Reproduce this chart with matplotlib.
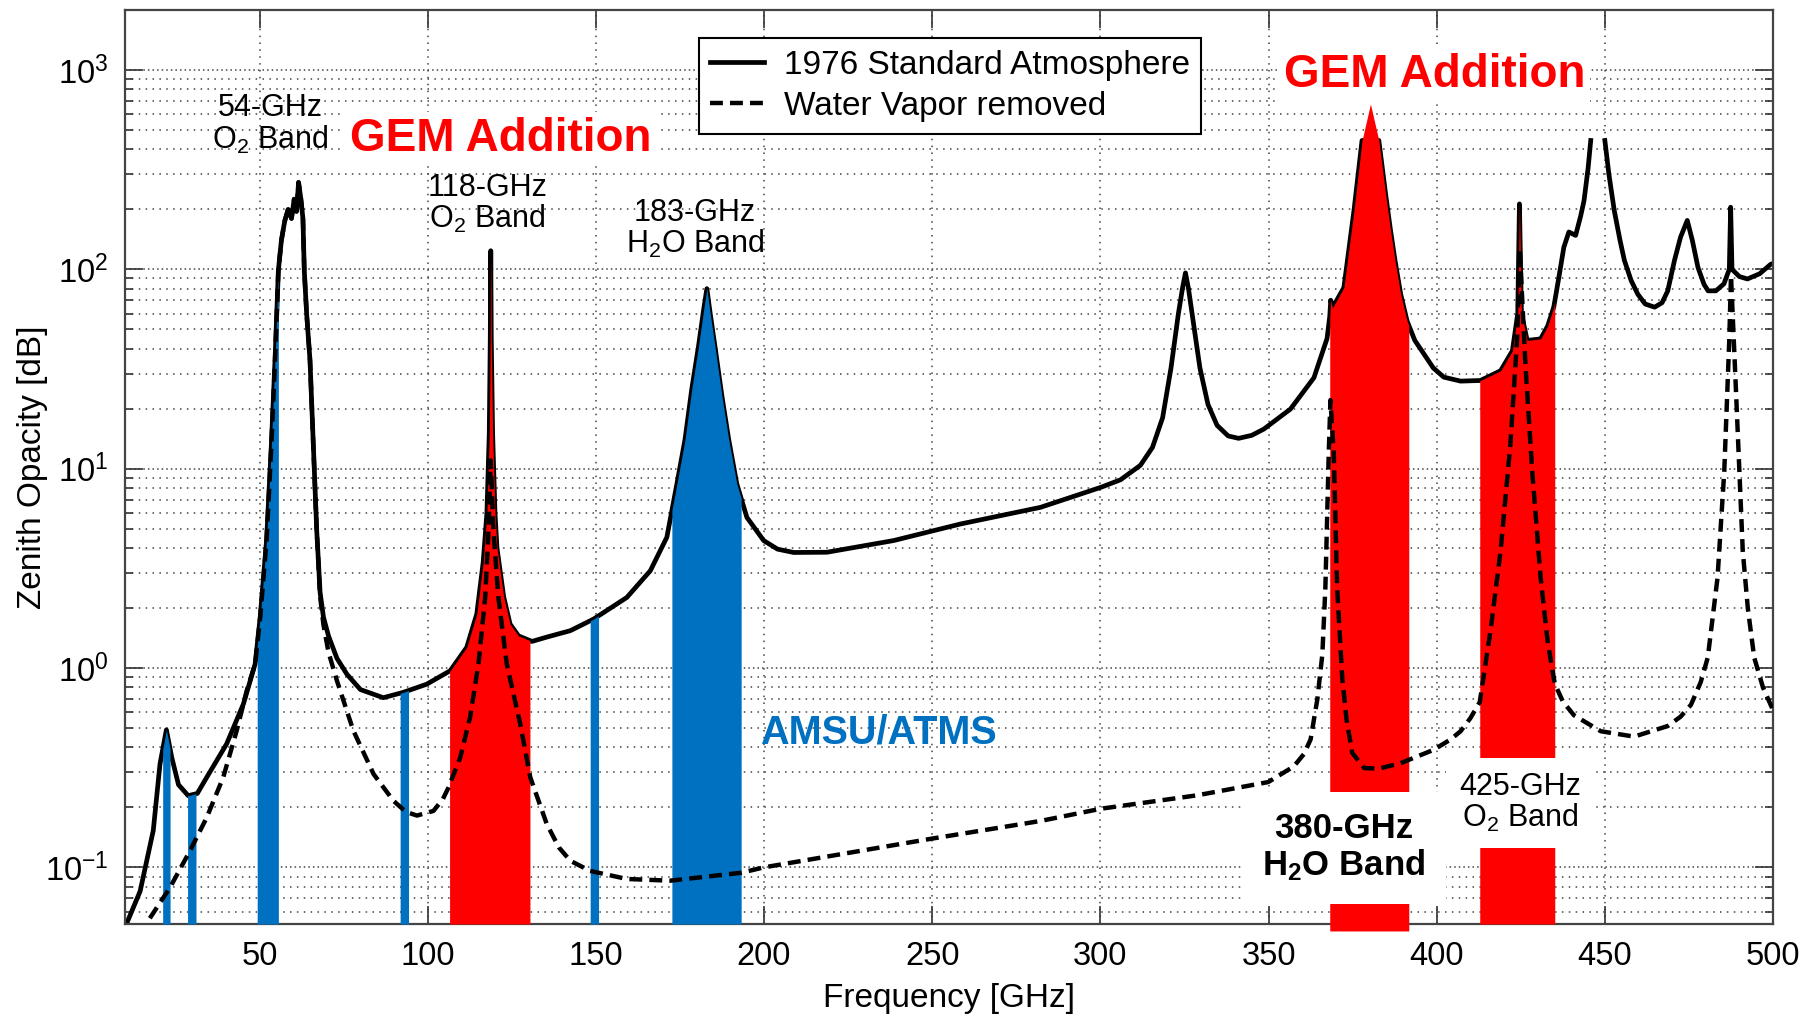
import matplotlib

matplotlib.use("Agg")
import matplotlib.pyplot as plt
import numpy as np
from matplotlib.ticker import LogLocator, NullFormatter, MultipleLocator

plt.rcParams.update({
    "font.family": ["Liberation Sans", "DejaVu Sans"],
    "mathtext.fontset": "custom",
    "mathtext.rm": "Liberation Sans",
    "mathtext.it": "Liberation Sans:italic",
    "mathtext.bf": "Liberation Sans:bold",
})

# ---------------------------------------------------------------------------
# zenith opacity, 1976 standard atmosphere
# ---------------------------------------------------------------------------
std_freq = [10.0, 14.5, 18.4, 20.4, 22.3, 23.9, 25.9, 28.8, 31.5, 34.3, 40.2,
            45.2, 48.7, 50.2, 52.1, 53.5, 54.6, 55.6, 56.5, 57.5, 58.5, 59.5,
            60.3, 61.0, 61.6, 62.3, 62.9, 63.3, 64.0, 65.0, 66.0, 67.0, 68.0,
            69.0, 70.5, 73.0, 76.0, 80.0, 86.8, 92.7, 99.7, 106.7, 111.6,
            114.6, 116.5, 117.6, 118.3, 118.6, 118.75, 118.9, 119.3, 120.0,
            120.6, 122.6, 124.5, 127.0, 131.0, 135.4, 142.4, 149.3, 159.2,
            166.2, 171.1, 174.1, 176.5, 178.5, 180.5, 182.0, 183.0, 184.0,
            185.5, 187.5, 189.5, 191.9, 194.9, 199.9, 204.0, 208.8, 218.7,
            238.5, 258.4, 282.2, 300.2, 306.0, 311.9, 315.5, 318.5, 321.0,
            323.2, 324.5, 325.3, 326.2, 327.6, 329.6, 332.0, 334.7, 338.0,
            341.1, 345.0, 348.6, 356.5, 363.5, 367.4, 368.2, 368.5, 369.0,
            372.4, 375.4, 377.8, 380.3, 382.8, 384.8, 386.2, 387.6, 389.3,
            391.2, 393.5, 396.2, 399.0, 402.1, 407.1, 413.0, 419.0, 422.5,
            424.1, 424.6, 425.2, 426.9, 430.9, 433.0, 434.8, 436.5, 437.8,
            439.3, 441.3, 442.8, 443.8, 445.0, 445.8, 448.0, 450.0, 451.2,
            452.8, 454.5, 455.8, 457.8, 459.8, 462.0, 464.8, 467.0, 468.7,
            470.7, 472.5, 474.5, 476.0, 477.7, 479.5, 480.7, 483.0, 485.4,
            487.0, 487.4, 487.8, 490.0, 492.4, 496.0, 499.3, 500.0]
std_opac = [0.050, 0.076, 0.153, 0.33, 0.49, 0.356, 0.26, 0.229, 0.235, 0.283, 0.416,
            0.66, 1.05, 1.8, 4.4, 13, 35, 99, 140, 175, 200, 180,
            225, 195, 273, 225, 180, 99, 60, 35, 13, 4.9, 2.4,
            1.8, 1.45, 1.12, 0.93, 0.78, 0.71, 0.755, 0.83, 0.97, 1.27,
            1.87, 3.4, 6.0, 15, 45, 124, 45, 15, 6.0,
            4.0, 2.27, 1.66, 1.45, 1.36, 1.43, 1.54, 1.76, 2.26,
            3.08, 4.53, 8.4, 14, 25, 41, 62, 80, 60,
            40, 23, 14, 8.4, 5.7, 4.36, 3.95, 3.8, 3.81,
            4.36, 5.28, 6.4, 8.07, 8.8, 10.4, 12.8, 18, 32,
            60, 82, 96, 80, 55, 32, 21, 16.5, 14.6,
            14.2, 14.7, 15.8, 19.9, 28.6, 45, 58, 70, 64,
            81, 197, 443, 676, 443, 239, 160, 111, 75,
            55, 44, 37.6, 32, 28.8, 27.5, 27.7, 31, 39,
            60, 213, 60, 44, 44.8, 52, 64.6, 95, 129,
            154, 148, 185, 221, 320, 443, np.nan, 446, 300,
            197, 140, 111, 88, 75, 67, 64.6, 68, 78,
            111, 145, 176, 140, 102, 84, 78, 78, 84.6,
            100, 205, 100, 92, 89.5, 95, 106, 107]

# zenith opacity with water vapor removed
dry_freq = [15.0, 17.2, 23.4, 29.3, 34.3, 39.2, 43.2, 46.2, 48.7, 50.2, 52.1,
            53.5, 54.6, 55.6, 56.5, 57.5, 58.5, 59.5, 60.3, 61.0, 61.6, 62.3,
            62.9, 63.3, 64.0, 65.0, 66.0, 67.0, 68.0, 69.0, 70.5, 73.0, 77.9,
            83.9, 89.8, 93.5, 96.8, 101.7, 104.5, 106.2, 109.7, 112.6, 115.1,
            117.1, 118.1, 118.75, 119.5, 121.0, 123.5, 127.5, 130.5, 135.4,
            139.0, 142.4, 148.3, 159.2, 172.1, 193.2, 199.9, 249.4, 282.2,
            300.2, 328.8, 349.9, 357.5, 360.5, 362.5, 364.5, 366.0, 366.9,
            367.4, 367.9, 368.4, 369.4, 370.4, 371.9, 373.2, 374.9, 378.5,
            382.8, 389.2, 399.1, 404.1, 407.1, 410.0, 412.8, 416.0, 419.0,
            421.9, 423.9, 424.7, 426.4, 428.4, 430.9, 433.0, 435.1, 437.5,
            440.8, 448.8, 458.7, 468.7, 472.5, 475.6, 478.5, 480.6, 483.5,
            485.5, 487.0, 487.5, 489.0, 491.0, 492.5, 494.4, 497.0, 500.0]
dry_opac = [0.045, 0.055, 0.0794, 0.121, 0.178, 0.283, 0.485, 0.77, 1.05, 1.8, 4.4,
            13, 35, 99, 140, 175, 200, 180, 225, 195, 273, 225,
            180, 99, 60, 35, 13, 4.9, 2.3, 1.65, 1.2, 0.865, 0.485,
            0.294, 0.216, 0.19, 0.182, 0.192, 0.22, 0.252, 0.357, 0.567, 1.05,
            2.27, 5.0, 11, 5.0, 2.27, 1.05, 0.525, 0.283, 0.165,
            0.126, 0.108, 0.096, 0.0875, 0.0858, 0.094, 0.1, 0.139, 0.171,
            0.197, 0.23, 0.268, 0.321, 0.37, 0.438, 0.695, 1.17, 2.53,
            5.48, 11.9, 22.1, 11.9, 2.53, 0.9, 0.55, 0.375, 0.315,
            0.313, 0.333, 0.389, 0.438, 0.482, 0.56, 0.675, 1.54, 3.87,
            13.2, 44.7, 126, 32.9, 9.7, 2.84, 1.35, 0.835, 0.68,
            0.58, 0.482, 0.453, 0.512, 0.57, 0.654, 0.85, 1.13, 2.84,
            9.7, 44.7, 93, 24.2, 3.87, 2.0, 1.13, 0.8, 0.615]
assert len(std_freq) == len(std_opac) and len(dry_freq) == len(dry_opac)

# channel bands [GHz]
amsu_lo = [21.2, 28.6, 49.3, 91.8, 148.3, 172.6]
amsu_hi = [23.4, 31.1, 55.6, 94.3, 150.8, 193.2]
gem_lo = [106.5, 368.2, 412.8]
gem_hi = [130.4, 391.7, 435.1]

LINE_CAP = 443      # solid curve saturates here in the original plot
YMIN, YMAX = 0.052, 2000
BLUE = "#0070C0"
RED = "#FF0000"

std_f = np.array(std_freq)
std_v = np.array(std_opac)
ok = ~np.isnan(std_v)


def band_top(lo, hi):
    """Solid curve sampled across one band (log interpolation)."""
    inner = std_f[ok][(std_f[ok] > lo) & (std_f[ok] < hi)]
    xs = np.concatenate([[lo], inner, [hi]])
    ys = 10 ** np.interp(xs, std_f[ok], np.log10(std_v[ok]))
    return xs, ys


fig = plt.figure(figsize=(18.17, 10.19), dpi=100)
ax = fig.add_axes([0.0688, 0.0932, 0.9070, 0.8970])

ax.plot(std_f, np.minimum(std_v, LINE_CAP), color="black", lw=3.4,
        solid_joinstyle="round", zorder=2, label="1976 Standard Atmosphere")
ax.plot(dry_freq, dry_opac, color="black", lw=3.2, ls=(0, (2.9, 1.6)),
        zorder=4, label="Water Vapor removed")

for lo, hi in zip(amsu_lo, amsu_hi):
    xs, ys = band_top(lo, hi)
    ax.fill_between(xs, YMIN, ys, color=BLUE, lw=0, zorder=3)
for i, (lo, hi) in enumerate(zip(gem_lo, gem_hi)):
    xs, ys = band_top(lo, hi)
    # 380-GHz bar runs a touch past the bottom axis in the original
    base = 0.048 if i == 1 else YMIN
    ax.fill_between(xs, base, ys, color=RED, lw=0, zorder=3, clip_on=(i != 1))

ax.set_yscale("log")
ax.set_xlim(10, 500)
ax.set_ylim(YMIN, YMAX)
ax.xaxis.set_major_locator(MultipleLocator(50))
ax.yaxis.set_major_locator(LogLocator(base=10, numticks=20))
ax.yaxis.set_minor_locator(LogLocator(base=10, subs=np.arange(2, 10), numticks=20))
ax.yaxis.set_minor_formatter(NullFormatter())

ax.set_axisbelow(True)
ax.grid(True, which="major", axis="x", ls=(0, (1, 3.5)), color="#444", lw=1.1)
ax.grid(True, which="major", axis="y", ls=(0, (1, 2)), color="#444", lw=1.1)
ax.grid(True, which="minor", axis="y", ls=(0, (1, 3.5)), color="#444", lw=1.1)

ax.tick_params(which="both", direction="in", top=True, right=True,
               color="#333", width=1.2, labelsize=23.5, pad=12)
ax.tick_params(which="major", length=13)
ax.tick_params(which="minor", length=6)
for sp in ax.spines.values():
    sp.set_color("#444")
    sp.set_linewidth(1.6)

ax.set_xlabel("Frequency [GHz]", fontsize=24, labelpad=8)
ax.set_ylabel("Zenith Opacity [dB]", fontsize=24, labelpad=-2)

leg = ax.legend(loc="upper left", bbox_to_anchor=(0.348, 0.969), borderaxespad=0,
                fontsize=24, fancybox=False, edgecolor="black", framealpha=1,
                borderpad=0.35, handlelength=1.6, handletextpad=0.6,
                labelspacing=0.3)
leg.get_frame().set_linewidth(1.5)
leg.set_zorder(6)

# band annotations (y = baseline of the last line)
lab = dict(fontsize=22, ha="center", va="baseline", linespacing=1.0, zorder=5)
ax.text(53.1, 404, "54-GHz\nO$_2$ Band", **lab)
ax.text(117.7, 162, "118-GHz\nO$_2$ Band", **lab)
ax.text(179.5, 121, "183-GHz\nH$_2$O Band", **lab)
ax.text(424.9, 0.160, "425-GHz\nO$_2$ Band",
        bbox=dict(boxstyle="square,pad=0.45", fc="white", ec="none"), **lab)
ax.text(372.3, 0.0908, "380-GHz\nH$_{\\mathbf{2}}$O Band", fontsize=25,
        fontweight="bold", ha="center", va="baseline", linespacing=1.1, zorder=5,
        bbox=dict(boxstyle="square,pad=0.6", fc="white", ec="none"))

gem = dict(fontsize=33, fontweight="bold", color=RED, ha="center",
           va="baseline", zorder=5,
           bbox=dict(boxstyle="square,pad=0.1", fc="white", ec="none"))
ax.text(121.7, 392, "GEM Addition", **gem)
ax.text(399.4, 817, "GEM Addition", **gem)
ax.text(233.9, 0.416, "AMSU/ATMS", fontsize=28.5, fontweight="bold",
        color=BLUE, ha="center", va="baseline", zorder=5)

fig.savefig("out.png", dpi=100)
